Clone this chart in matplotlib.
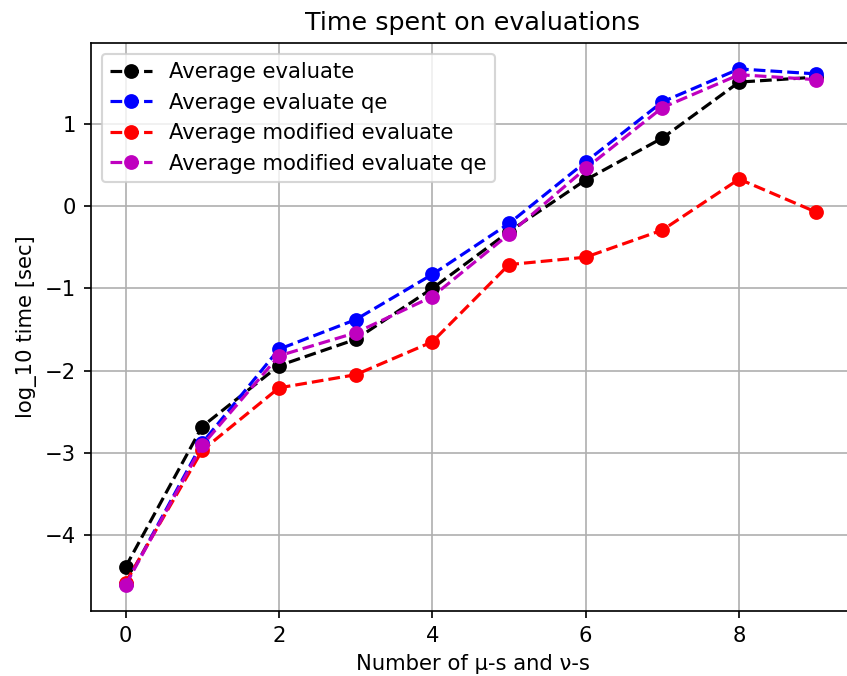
import matplotlib
matplotlib.use("Agg")
import matplotlib.pyplot as plt

n = list(range(10))

avg_eval = [-4.39, -2.68, -1.94, -1.62, -1.00, -0.31, 0.32, 0.83, 1.51, 1.57]
avg_eval_qe = [-4.60, -2.88, -1.74, -1.38, -0.83, -0.21, 0.54, 1.27, 1.67, 1.61]
avg_mod_eval = [-4.58, -2.97, -2.21, -2.05, -1.65, -0.71, -0.62, -0.29, 0.33, -0.07]
avg_mod_eval_qe = [-4.61, -2.91, -1.82, -1.54, -1.10, -0.34, 0.46, 1.20, 1.60, 1.54]

dpi = 152
fig = plt.figure(figsize=(848 / dpi, 676 / dpi), dpi=dpi)
# the right spine sits just past the image edge, as in the reference
ax = fig.add_axes([0.1073, 0.0962, 0.9, 0.840])
ax.set_xlim(-0.45, 9.5)

ax.plot(n, avg_eval, 'ko--', label='Average evaluate')
ax.plot(n, avg_eval_qe, 'bo--', label='Average evaluate qe')
ax.plot(n, avg_mod_eval, 'ro--', label='Average modified evaluate')
ax.plot(n, avg_mod_eval_qe, 'mo--', label='Average modified evaluate qe')

ax.set_title('Time spent on evaluations')
ax.set_xlabel('Number of μ-s and ν-s')
ax.set_ylabel('log_10 time [sec]')
ax.grid(True)
ax.legend(loc='upper left')

fig.savefig('out.png', dpi=dpi)
